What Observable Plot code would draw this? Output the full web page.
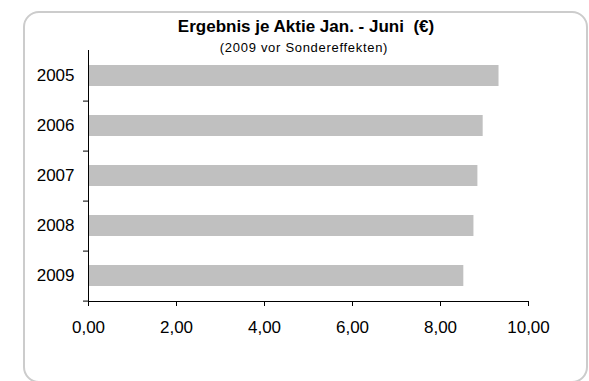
<!DOCTYPE html>
<html>
<head>
<meta charset="utf-8">
<script src="https://cdn.jsdelivr.net/npm/d3@7"></script>
<script src="https://cdn.jsdelivr.net/npm/@observablehq/plot@0.6"></script>
<style>
  html, body { margin: 0; padding: 0; background: #fff; }
  #wrap { position: relative; width: 589px; height: 381px; overflow: hidden; font-family: "Liberation Sans", Arial, sans-serif; }
  #border { position: absolute; left: 23px; top: 11px; width: 565px; height: 372px; border: 2px solid #cccccc; border-radius: 16px; box-sizing: border-box; }
  #title { position: absolute; left: 306px; top: 18px; transform: translateX(-50%); font-size: 17px; line-height: 17px; font-weight: bold; white-space: pre; color: #000; }
  #subtitle { position: absolute; left: 304px; top: 41px; transform: translateX(-50%); font-size: 13px; line-height: 13px; letter-spacing: 0.7px; white-space: pre; color: #000; }
  #chart { position: absolute; left: 0; top: 0; }
</style>
</head>
<body>
<div id="wrap">
  <div id="border"></div>
  <div id="chart"></div>
  <div id="title">Ergebnis je Aktie Jan. - Juni  (€)</div>
  <div id="subtitle">(2009 vor Sondereffekten)</div>
</div>
<script>
const years = ["2005", "2006", "2007", "2008", "2009"];
const values = [9.33, 8.97, 8.85, 8.76, 8.53];
const xTicks = [0, 2, 4, 6, 8, 10];

const data = years.map((y, i) => ({year: y, value: values[i]}));

const width = 589, height = 381;
const marginTop = 50, marginBottom = 80, marginLeft = 88, marginRight = 61;
const step = (height - marginTop - marginBottom) / years.length;
const fmt = d => d3.format(".2f")(d).replace(".", ",");

const chart = Plot.plot({
  width, height, marginTop, marginBottom, marginLeft, marginRight,
  style: {fontFamily: "'Liberation Sans', Arial, sans-serif", fontSize: "17px", color: "#000", background: "transparent"},
  x: {domain: [0, 10]},
  y: {domain: years, paddingInner: 0.58, paddingOuter: 0.29},
  marks: [
    Plot.barX(data, {x: "value", y: "year", fill: "#c0c0c0"}),
    Plot.axisX({ticks: xTicks, tickFormat: fmt, tickSize: 5, tickPadding: 14, label: null, stroke: "#000"}),
    Plot.axisY({tickSize: 0, tickPadding: 14, label: null}),
    Plot.axisY({tickSize: 5, tickFormat: () => "", label: null, dy: step / 2, stroke: "#000"}),
    Plot.frame({anchor: "bottom", stroke: "#000"}),
    Plot.frame({anchor: "left", stroke: "#000"})
  ]
});
document.getElementById("chart").appendChild(chart);
</script>
</body>
</html>
